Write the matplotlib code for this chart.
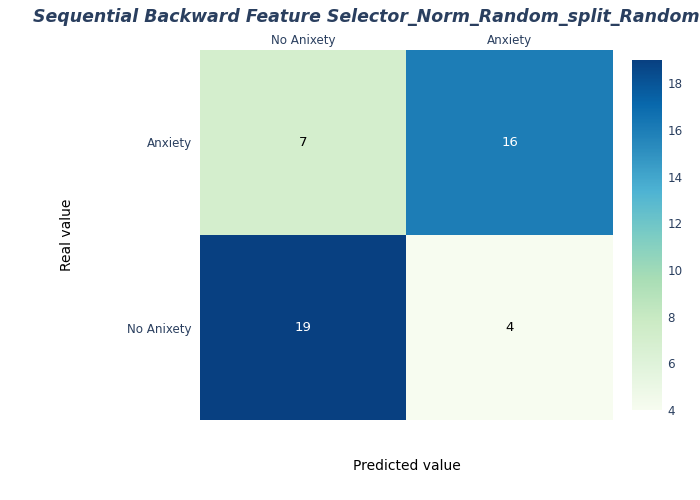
import matplotlib
matplotlib.use("Agg")
import matplotlib.pyplot as plt
import numpy as np
from matplotlib.colors import Normalize

plt.rcParams['font.family'] = ['DejaVu Sans']

title = "Sequential Backward Feature Selector_Norm_Random_split_Random"
x_labels = ["No Anixety", "Anxiety"]
y_labels = ["No Anixety", "Anxiety"]  # bottom to top
# rows bottom to top
values = [[19, 4],
          [7, 16]]
cbar_ticks = [4, 6, 8, 10, 12, 14, 16, 18]

z = np.array(values)
W, H = 700, 500
fig = plt.figure(figsize=(7, 5), dpi=100)
ax = fig.add_axes([200/W, 1-420/H, 413/W, 370/H])
norm = Normalize(vmin=z.min(), vmax=z.max())
cmap = plt.get_cmap('GnBu')
im = ax.imshow(z, cmap=cmap, norm=norm, origin='lower', aspect='auto',
               extent=[-0.5, 1.5, -0.5, 1.5], interpolation='nearest')
for i in range(z.shape[0]):
    for j in range(z.shape[1]):
        v = z[i, j]
        col = 'white' if norm(v) > 0.5 else 'black'
        ax.text(j, i, str(v), ha='center', va='center', fontsize=9.5, color=col)

ax.set_xticks(range(len(x_labels)))
ax.set_xticklabels(x_labels)
ax.set_yticks(range(len(y_labels)))
ax.set_yticklabels(y_labels)
ax.xaxis.tick_top()
ax.tick_params(length=0, labelsize=8.6, colors='#2a3f5f', pad=2)
ax.tick_params(axis='y', pad=6)
for s in ax.spines.values():
    s.set_visible(False)

fig.text(407/W, 1-466/H, "Predicted value", ha='center', va='center', fontsize=10, color='black')
fig.text(67/W, 1-235/H, "Real value", ha='center', va='center', fontsize=10, color='black', rotation=90)
fig.text(366/W, 1-17/H, title, ha='center', va='center', fontsize=12.5, fontweight='bold',
         fontstyle='italic', color='#2a3f5f')

cax = fig.add_axes([632/W, 1-410/H, 30/W, 350/H])
cb = fig.colorbar(im, cax=cax, ticks=cbar_ticks)
cb.outline.set_visible(False)
cax.tick_params(length=0, labelsize=8.6, colors='#2a3f5f', pad=4)

fig.savefig("out.png", dpi=100)
